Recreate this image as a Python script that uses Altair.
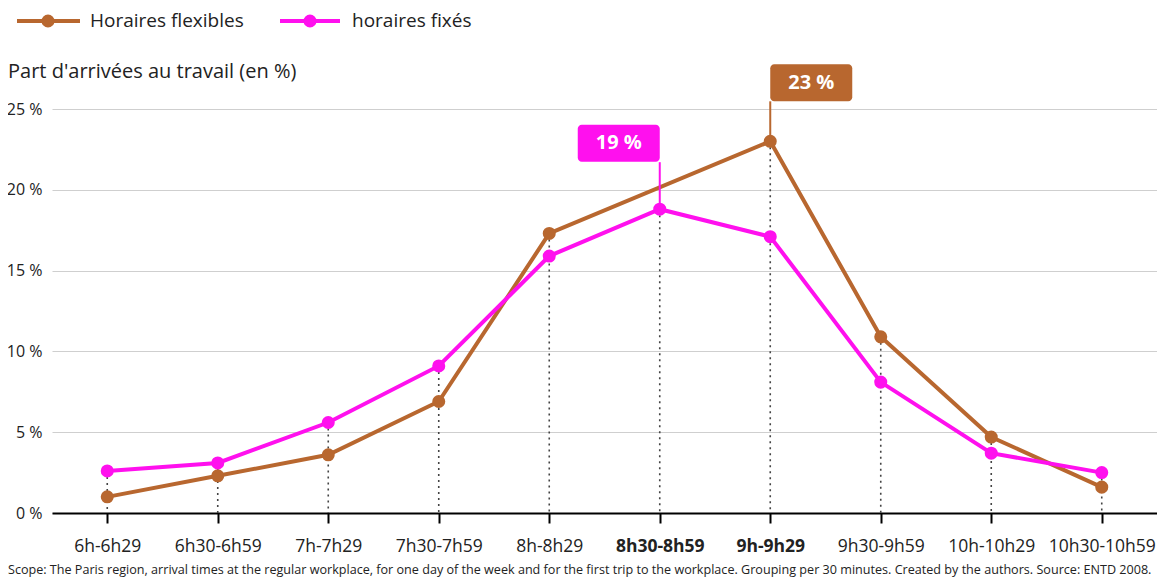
import altair as alt
import pandas as pd

categories = ["6h-6h29", "6h30-6h59", "7h-7h29", "7h30-7h59", "8h-8h29",
              "8h30-8h59", "9h-9h29", "9h30-9h59", "10h-10h29", "10h30-10h59"]
flexible = [1.0, 2.3, 3.6, 6.9, 17.3, None, 23.0, 10.9, 4.7, 1.6]
fixed = [2.6, 3.1, 5.6, 9.1, 15.9, 18.8, 17.1, 8.1, 3.7, 2.5]
series_names = ["Horaires flexibles", "horaires fixés"]
series_colors = ["#B8672F", "#FF10EE"]
y_ticks = [0, 5, 10, 15, 20, 25]
bold_labels = ["8h30-8h59", "9h-9h29"]
annot_series = ["Horaires flexibles", "horaires fixés"]
annot_cats = ["9h-9h29", "8h30-8h59"]
annot_values = [23.0, 18.8]
annot_labels = ["23 %", "19 %"]
y_title = "Part d'arrivées au travail (en %)"
footer = ("Scope: The Paris region, arrival times at the regular workplace, for one day of the week "
          "and for the first trip to the workplace. Grouping per 30 minutes. Created by the authors. "
          "Source: ENTD 2008.")

FONT = "Open Sans"
TXT = "#222222"

rows = []
for name, vals in zip(series_names, [flexible, fixed]):
    for c, v in zip(categories, vals):
        if v is not None:
            rows.append({"cat": c, "value": v, "series": name})
df = pd.DataFrame(rows)

drops = []
for i, c in enumerate(categories):
    vals = [v for v in (flexible[i], fixed[i]) if v is not None]
    drops.append({"cat": c, "top": max(vals)})
drop_df = pd.DataFrame(drops)

ann_df = pd.DataFrame({"series": annot_series, "cat": annot_cats,
                       "value": annot_values, "label": annot_labels})

color = alt.Color("series:N", scale=alt.Scale(domain=series_names, range=series_colors), legend=None)
bold_expr = "indexof([" + ",".join("'%s'" % b for b in bold_labels) + "], datum.value) >= 0 ? 'bold' : 'normal'"

x_enc = alt.X("cat:O", sort=categories, scale=alt.Scale(type="point", padding=0.5),
              axis=alt.Axis(title=None, labelAngle=0, labelFontSize=17.5, labelColor=TXT,
                            domainColor="black", domainWidth=2, tickColor="black",
                            tickWidth=2, tickSize=10, labelPadding=14, grid=False,
                            labelFontWeight=alt.ExprRef(expr=bold_expr)))
y_scale = alt.Scale(domain=[0, 25], nice=False)
y_axis = alt.Axis(values=y_ticks, labelExpr="datum.value + ' %'", title=None, domain=False,
                  ticks=False, grid=True, gridColor="#cfcfcf", gridWidth=1.2,
                  labelPadding=10, labelFontSize=16, labelColor=TXT)

drop_layer = alt.Chart(drop_df).mark_rule(strokeDash=[2, 4], strokeWidth=1.6, color="#444444").encode(
    x=x_enc, y=alt.Y("top:Q", scale=y_scale, axis=y_axis), y2=alt.datum(0))

lines = alt.Chart(df).mark_line(strokeWidth=4).encode(
    x=x_enc, y=alt.Y("value:Q", scale=y_scale, axis=y_axis), color=color)
points = alt.Chart(df).mark_point(filled=True, size=170, opacity=1).encode(
    x=x_enc, y=alt.Y("value:Q", scale=y_scale), color=color)

ann_layers = []
offsets = {"Horaires flexibles": (41, -58.5, -40), "horaires fixés": (-41, -66, -47)}
for s in annot_series:
    xo, yo, callout = offsets[s]
    base = alt.Chart(ann_df).transform_filter(alt.datum.series == s)
    ann_layers.append(base.mark_rule(strokeWidth=2, y2Offset=callout).encode(
        x=x_enc, y=alt.Y("value:Q", scale=y_scale), y2="value:Q", color=color))
    ann_layers.append(base.mark_rect(width=82, height=37, cornerRadius=4, xOffset=xo, yOffset=yo,
                                     opacity=1).encode(
        x=x_enc, y=alt.Y("value:Q", scale=y_scale), color=color))
    ann_layers.append(base.mark_text(fontSize=20, fontWeight="bold", color="white", font=FONT,
                                     xOffset=xo, yOffset=yo, baseline="middle", align="center").encode(
        x=x_enc, y=alt.Y("value:Q", scale=y_scale), text="label:N"))

legend_pos = {"Horaires flexibles": (-35, 28, -4, 38), "horaires fixés": (228, 288, 258, 300)}
leg_df = pd.DataFrame({"series": series_names})
leg_layers = []
for s in series_names:
    x1, x2, xc, xt = legend_pos[s]
    base = alt.Chart(leg_df).transform_filter(alt.datum.series == s)
    leg_layers.append(base.mark_rule(strokeWidth=4).encode(
        x=alt.value(x1), x2=alt.value(x2), y=alt.value(-88), color=color))
    leg_layers.append(base.mark_point(filled=True, size=170, opacity=1).encode(
        x=alt.value(xc), y=alt.value(-88), color=color))
    leg_layers.append(base.mark_text(align="left", baseline="middle", fontSize=19, font=FONT,
                                     color=TXT).encode(
        x=alt.value(xt), y=alt.value(-88), text="series:N"))

title_layer = alt.Chart(pd.DataFrame({"t": [y_title]})).mark_text(
    align="left", baseline="middle", fontSize=20, font=FONT, color=TXT).encode(
    x=alt.value(-44), y=alt.value(-37), text="t:N")

footer_layer = alt.Chart(pd.DataFrame({"t": [footer]})).mark_text(
    align="left", baseline="middle", fontSize=12.6, font=FONT, color=TXT).encode(
    x=alt.value(-44), y=alt.value(461), text="t:N")

chart = alt.layer(drop_layer, lines, points, *ann_layers, *leg_layers, title_layer, footer_layer).properties(
    width=1105, height=404,
    autosize=alt.AutoSizeParams(type="none"),
    padding={"left": 44, "top": 101, "right": 0, "bottom": 64},
).configure(font=FONT).configure_view(stroke=None)

chart.save("out.html", embed_options={"renderer": "svg", "actions": False})
